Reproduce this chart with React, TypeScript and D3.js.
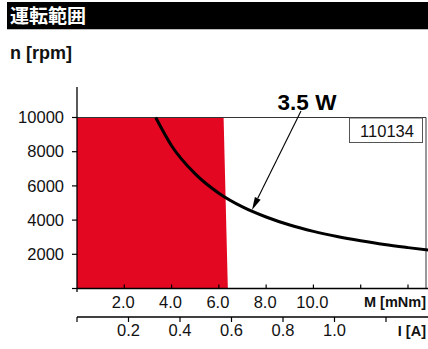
import React from "react";
import * as d3 from "d3";

const title = "運転範囲";
const yLabel = "n [rpm]";
const mLabel = "M [mNm]";
const iLabel = "I [A]";
const modelNo = "110134";
const powerLabel = "3.5 W";

const yTicks = [2000, 4000, 6000, 8000, 10000];
const mTicks = [2, 4, 6, 8, 10, 12, 14];
const mTickLabels = ["2.0", "4.0", "6.0", "8.0", "10.0", "", ""];
const iTicks = [0, 0.2, 0.4, 0.6, 0.8, 1.0, 1.2];
const iTickLabels = ["", "0.2", "0.4", "0.6", "0.8", "1.0", ""];

// 3.5 W power curve: torque (mNm) vs speed (rpm)
const curveM = [3.33, 4, 5, 6, 7, 8, 9, 10, 11, 12, 13, 14, 14.85];
const curveN = [10000, 8350, 6700, 5570, 4770, 4180, 3710, 3340, 3040, 2790, 2570, 2390, 2250];

// continuous operation range (red area)
const rangeM = [0, 0, 6.2, 6.38];
const rangeN = [0, 10000, 10000, 0];

const W = 428;
const H = 349;
const FONT = "'Liberation Sans', Arial, sans-serif";

export default function App() {
  const xM = d3.scaleLinear().domain([0, 14]).range([77, 408]);
  const xI = d3.scaleLinear().domain([0, 1.2]).range([77, 386]);
  const y = d3.scaleLinear().domain([0, 10000]).range([288.5, 117.5]);

  const curvePts: [number, number][] = curveM.map((m, i) => [xM(m), y(curveN[i])]);
  const curvePath = d3.line().curve(d3.curveMonotoneX)(curvePts) || "";
  const areaPts: [number, number][] = rangeM.map((m, i) => [xM(m), y(rangeN[i])]);
  const areaPath = d3.line()(areaPts) + "Z";

  const right = 426;
  const yTop = y(10000);
  const yBot = y(0);
  const mAxisY = 288.5;
  const iAxisY = 317;

  // arrow
  const ax1 = 301, ay1 = 111, ax2 = 252, ay2 = 210;
  const ang = Math.atan2(ay2 - ay1, ax2 - ax1);
  const hl = 13, hw = 3.2;
  const bx = ax2 - hl * Math.cos(ang), by = ay2 - hl * Math.sin(ang);
  const px = -Math.sin(ang), py = Math.cos(ang);
  const head = `M${ax2},${ay2}L${bx + px * hw},${by + py * hw}L${bx - px * hw},${by - py * hw}Z`;

  return (
    <svg
      width={W}
      height={H}
      style={{ position: "fixed", left: 0, top: 0, background: "#fff" }}
      fontFamily={FONT}
    >
      <rect x={0} y={0} width={W} height={H} fill="#fff" />
      {/* title bar */}
      <rect x={7} y={2} width={W - 7} height={27} fill="#000" />
      <line x1={7} x2={W} y1={29.5} y2={29.5} stroke="#bbb" strokeWidth={1} />
      <text
        x={10}
        y={23}
        fill="#fff"
        fontSize={19}
        fontWeight="bold"
        fontFamily="'Noto Sans CJK JP', sans-serif"
      >
        {title}
      </text>
      <text x={10} y={59} fontSize={18} fontWeight="bold" fill="#111">
        {yLabel}
      </text>

      {/* red operating range */}
      <path d={areaPath} fill="#e30722" />

      {/* frame */}
      <line x1={77} x2={right} y1={yTop} y2={yTop} stroke="#333" strokeWidth={1} />
      <line x1={right} x2={right} y1={yTop} y2={yBot} stroke="#333" strokeWidth={1} />

      {/* y axis */}
      <line x1={77} x2={77} y1={87} y2={292} stroke="#000" strokeWidth={1.3} />
      {[0, ...yTicks].map((t) => (
        <line key={"yt" + t} x1={72} x2={77} y1={y(t)} y2={y(t)} stroke="#000" strokeWidth={1.2} />
      ))}
      {yTicks.map((t) => (
        <text
          key={"yl" + t}
          x={64}
          y={y(t)}
          dy="0.35em"
          textAnchor="end"
          fontSize={16.5}
          fill="#111"
        >
          {t}
        </text>
      ))}

      {/* M axis */}
      <line x1={77} x2={W} y1={mAxisY} y2={mAxisY} stroke="#000" strokeWidth={1.3} />
      {mTicks.map((t, i) => (
        <g key={"mt" + t}>
          <line x1={xM(t)} x2={xM(t)} y1={mAxisY - 4} y2={mAxisY} stroke="#000" strokeWidth={1.2} />
          {mTickLabels[i] && (
            <text x={xM(t) - 1} y={308} textAnchor="middle" fontSize={16.5} fill="#111">
              {mTickLabels[i]}
            </text>
          )}
        </g>
      ))}
      <text x={426} y={307} textAnchor="end" fontSize={14.5} fontWeight="bold" fill="#111">
        {mLabel}
      </text>

      {/* I axis */}
      <line x1={77} x2={W} y1={iAxisY} y2={iAxisY} stroke="#000" strokeWidth={1.3} />
      {iTicks.map((t, i) => (
        <g key={"it" + t}>
          <line x1={xI(t)} x2={xI(t)} y1={iAxisY} y2={iAxisY + 5} stroke="#000" strokeWidth={1.2} />
          {iTickLabels[i] && (
            <text x={xI(t)} y={336} textAnchor="middle" fontSize={16.5} fill="#111">
              {iTickLabels[i]}
            </text>
          )}
        </g>
      ))}
      <text x={426} y={336} textAnchor="end" fontSize={14.5} fontWeight="bold" fill="#111">
        {iLabel}
      </text>

      {/* power curve */}
      <path d={curvePath} fill="none" stroke="#000" strokeWidth={3} />

      {/* model box */}
      <rect x={349.5} y={118} width={73} height={24.5} fill="#fff" stroke="#555" strokeWidth={1} />
      <text x={387} y={131} dy="0.35em" textAnchor="middle" fontSize={16.5} fill="#111">
        {modelNo}
      </text>

      {/* power label + arrow */}
      <text x={307} y={110} textAnchor="middle" fontSize={22.5} fontWeight="bold" fill="#000">
        {powerLabel}
      </text>
      <line x1={ax1} y1={ay1} x2={bx} y2={by} stroke="#000" strokeWidth={1.1} />
      <path d={head} fill="#000" />
    </svg>
  );
}
